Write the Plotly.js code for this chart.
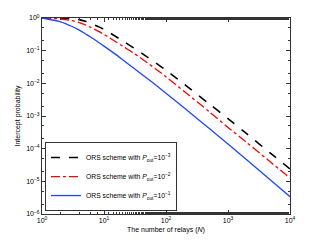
<!DOCTYPE html>
<html>
<head>
<meta charset="utf-8">
<script src="https://cdn.plot.ly/plotly-3.0.1.min.js"></script>
<style>html,body{margin:0;padding:0;background:#fff;}#chart{width:321px;height:242px;}</style>
</head>
<body>
<div id="chart"></div>
<script>
const relays = [1, 2, 3, 4, 5, 6, 8, 10, 15, 20, 30, 50, 70, 100, 200, 500, 1000, 2000, 5000, 10000];
const poutE3 = [1.0, 0.989, 0.955, 0.891, 0.794, 0.70, 0.55, 0.447, 0.282, 0.2, 0.122, 0.0638, 0.0407, 0.0251, 0.00912, 0.00234, 8.3e-4, 2.88e-4, 6.9e-5, 2.4e-5];
const poutE2 = [1.0, 0.933, 0.832, 0.724, 0.617, 0.525, 0.398, 0.316, 0.195, 0.138, 0.0841, 0.0427, 0.0266, 0.0158, 0.0055, 0.00135, 4.47e-4, 1.55e-4, 3.7e-5, 1.26e-5];
const poutE1 = [1.0, 0.766, 0.558, 0.425, 0.328, 0.266, 0.185, 0.138, 0.0798, 0.053, 0.0294, 0.014, 0.00855, 0.00501, 0.00172, 4.13e-4, 1.38e-4, 4.55e-5, 1.04e-5, 3.39e-6];
const seriesNames = [
  "ORS scheme with <i>P</i><sub>out</sub>=10<sup>−3</sup>",
  "ORS scheme with <i>P</i><sub>out</sub>=10<sup>−2</sup>",
  "ORS scheme with <i>P</i><sub>out</sub>=10<sup>−1</sup>"
];
const xTickVals = [1, 10, 100, 1000, 10000];
const xTickText = ["10<sup>0</sup>", "10<sup>1</sup>", "10<sup>2</sup>", "10<sup>3</sup>", "10<sup>4</sup>"];
const yTickVals = [1e-6, 1e-5, 1e-4, 1e-3, 1e-2, 1e-1, 1];
const yTickText = ["10<sup>−6</sup>", "10<sup>−5</sup>", "10<sup>−4</sup>", "10<sup>−3</sup>", "10<sup>−2</sup>", "10<sup>−1</sup>", "10<sup>0</sup>"];

const font = "Liberation Sans, Arial, sans-serif";
const traces = [
  {x: relays, y: poutE3, name: seriesNames[0], mode: "lines", line: {color: "#000000", width: 1.6, dash: "dash", shape: "spline", smoothing: 0.8}},
  {x: relays, y: poutE2, name: seriesNames[1], mode: "lines", line: {color: "#ff0000", width: 1.3, dash: "dashdot", shape: "spline", smoothing: 0.8}},
  {x: relays, y: poutE1, name: seriesNames[2], mode: "lines", line: {color: "rgb(30,70,255)", width: 1.3, shape: "spline", smoothing: 0.8}}
];
const axisCommon = {
  type: "log", showgrid: false, zeroline: false, showline: true, linecolor: "#333", linewidth: 1,
  mirror: "allticks", ticks: "inside", ticklen: 4, tickcolor: "#333",
  tickfont: {family: font, size: 7, color: "#000"},
  minor: {ticks: "inside", ticklen: 2, tickcolor: "#333", showgrid: false}
};
const layout = {
  width: 321, height: 242,
  margin: {l: 42, r: 31, t: 18, b: 28, pad: 0},
  paper_bgcolor: "#fff", plot_bgcolor: "#fff",
  showlegend: true,
  font: {family: font, size: 7, color: "#000"},
  xaxis: Object.assign({}, axisCommon, {
    range: [0, 4], tickmode: "array", tickvals: xTickVals, ticktext: xTickText,
    title: {text: "The number of relays (<i>N</i>)", font: {family: font, size: 7}, standoff: 3}
  }),
  yaxis: Object.assign({}, axisCommon, {
    range: [-6, 0], tickmode: "array", tickvals: yTickVals, ticktext: yTickText,
    title: {text: "Intercept probability", font: {family: font, size: 7}, standoff: 4}
  }),
  legend: {
    x: 0.012, y: 0.015, xanchor: "left", yanchor: "bottom",
    bgcolor: "#fff", bordercolor: "#333", borderwidth: 1,
    font: {family: font, size: 6.8, color: "#000"},
    tracegroupgap: 0, itemwidth: 30
  }
};
Plotly.newPlot("chart", traces, layout, {displayModeBar: false, staticPlot: true});
</script>
</body>
</html>
